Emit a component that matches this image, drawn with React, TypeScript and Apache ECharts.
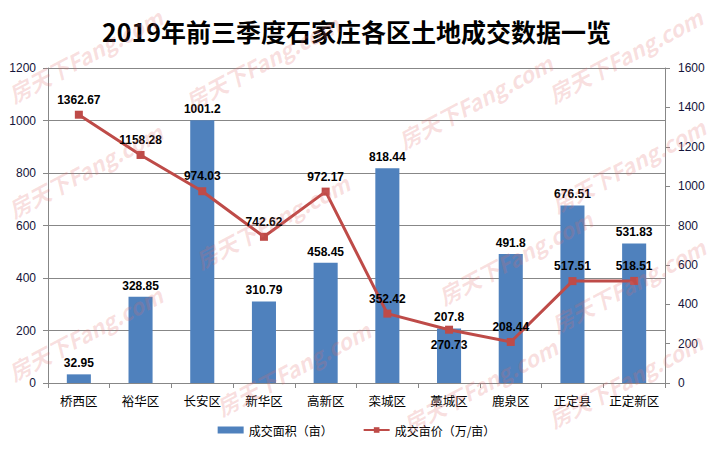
import React, { useEffect, useRef } from "react";
import * as echarts from "echarts";

const titleText = "2019年前三季度石家庄各区土地成交数据一览";
const categories = ["桥西区", "裕华区", "长安区", "新华区", "高新区", "栾城区", "藁城区", "鹿泉区", "正定县", "正定新区"];
const areaValues = [32.95, 328.85, 1001.2, 310.79, 458.45, 818.44, 207.8, 491.8, 676.51, 531.83];
const priceValues = [1362.67, 1158.28, 974.03, 742.62, 972.17, 352.42, 270.73, 208.44, 517.51, 518.51];
const areaName = "成交面积（亩）";
const priceName = "成交亩价（万/亩）";
const watermarkText = "房天下Fang.com";
const watermarkSpots: [number, number][] = [
  [85, 55], [262, 62], [475, 101], [625, 55],
  [85, 170], [272, 221], [628, 165],
  [85, 333], [293, 368], [515, 257], [628, 285],
  [480, 385], [625, 380],
];

export default function App() {
  const ref = useRef<HTMLDivElement>(null);
  useEffect(() => {
    if (!ref.current) return;
    const chart = echarts.init(ref.current, null, { renderer: "svg" });
    const axisColor = "#878787";
    const tickLabelColor = "#14143a";
    chart.setOption({
      animation: false,
      backgroundColor: "#ffffff",
      title: {
        text: titleText,
        left: "center",
        top: 13,
        textStyle: {
          fontFamily: "Noto Sans CJK SC",
          fontWeight: "bold",
          fontSize: 25,
          color: "#000",
        },
      },
      legend: {
        bottom: 10,
        left: "center",
        itemGap: 30,
        itemWidth: 26,
        itemHeight: 7,
        textStyle: { fontFamily: "Noto Sans CJK SC", fontSize: 12, color: "#000" },
        data: [
          { name: areaName, icon: "rect" },
          { name: priceName },
        ],
      },
      grid: { left: 48, right: 48, top: 68, bottom: 68, containLabel: false },
      xAxis: {
        type: "category",
        data: categories,
        boundaryGap: true,
        axisLine: { lineStyle: { color: axisColor, width: 1 } },
        axisTick: { show: true, length: 5, lineStyle: { color: axisColor } },
        axisLabel: {
          margin: 11,
          fontFamily: "Noto Sans CJK SC",
          fontSize: 12.5,
          color: "#000",
          interval: 0,
        },
      },
      yAxis: [
        {
          type: "value",
          min: 0,
          max: 1200,
          interval: 200,
          axisLine: { show: true, lineStyle: { color: axisColor } },
          axisTick: { show: true, length: 5, lineStyle: { color: axisColor } },
          splitLine: { show: true, lineStyle: { color: axisColor, width: 1 } },
          axisLabel: {
            margin: 12,
            fontFamily: "Liberation Sans",
            fontSize: 12,
            color: tickLabelColor,
            formatter: (v: number) => String(v),
          },
        },
        {
          type: "value",
          min: 0,
          max: 1600,
          interval: 200,
          position: "right",
          axisLine: { show: true, lineStyle: { color: axisColor } },
          axisTick: { show: true, length: 5, lineStyle: { color: axisColor } },
          splitLine: { show: false },
          axisLabel: {
            margin: 13,
            fontFamily: "Liberation Sans",
            fontSize: 12,
            color: tickLabelColor,
            formatter: (v: number) => String(v),
          },
        },
      ],
      series: [
        {
          name: areaName,
          type: "bar",
          yAxisIndex: 0,
          data: areaValues,
          barWidth: "39%",
          itemStyle: { color: "#4F81BD" },
          label: {
            show: true,
            position: "top",
            distance: 5,
            fontFamily: "Liberation Sans",
            fontWeight: "bold",
            fontSize: 12,
            color: "#000",
          },
          z: 2,
        },
        {
          name: priceName,
          type: "line",
          yAxisIndex: 1,
          data: priceValues.map((v, i) =>
            i === 6 ? { value: v, label: { position: "bottom" } } : v
          ),
          symbol: "rect",
          symbolSize: 8,
          lineStyle: { color: "#BE4B48", width: 3 },
          itemStyle: { color: "#BE4B48" },
          label: {
            show: true,
            position: "top",
            distance: 5,
            fontFamily: "Liberation Sans",
            fontWeight: "bold",
            fontSize: 12,
            color: "#000",
          },
          z: 3,
        },
      ],
      graphic: watermarkSpots.map(([x, y]) => ({
        type: "text",
        x,
        y,
        rotation: 0.49,
        silent: true,
        z: 100,
        style: {
          text: watermarkText,
          x: 0,
          y: 0,
          align: "center",
          verticalAlign: "middle",
          font: "italic bold 22px 'Noto Sans CJK SC'",
          fill: "rgba(225,110,110,0.22)",
        },
      })),
    });
    return () => chart.dispose();
  }, []);
  return <div ref={ref} style={{ width: 713, height: 451, position: "absolute", left: 0, top: 0 }} />;
}
